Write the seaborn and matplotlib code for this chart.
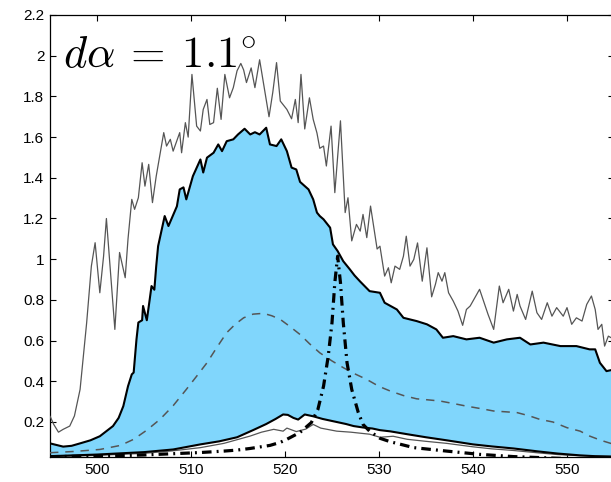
import numpy as np
import pandas as pd
import matplotlib
matplotlib.use("Agg")
import matplotlib.pyplot as plt
from matplotlib.ticker import FuncFormatter
import seaborn as sns

# ---- measured spectra (wavelength in nm, intensity a.u.) ----
upper_x = [495.0, 496.4, 497.3, 498.2, 499.3, 500.3, 501.7, 502.3, 502.8, 503.3, 503.7, 503.9,
           504.2, 504.4, 504.8, 504.9, 505.3, 505.6, 505.8, 506.1, 506.3, 506.5, 507.2, 507.6,
           508.5, 508.8, 509.2, 509.5, 510.2, 511.0, 511.3, 511.7, 512.4, 512.9, 513.3, 513.8,
           514.5, 515.0, 515.7, 516.3, 516.8, 517.3, 518.0, 518.4, 519.1, 519.6, 520.2, 520.7,
           521.2, 521.6, 522.5, 523.0, 523.4, 523.7, 524.1, 524.8, 525.1, 525.6, 526.2, 526.9,
           527.4, 528.0, 529.0, 530.1, 530.6, 531.9, 532.6, 534.0, 535.1, 536.1, 536.8, 537.9,
           539.3, 540.7, 542.2, 543.6, 545.0, 546.1, 547.5, 549.3, 551.0, 552.4, 553.0, 553.5,
           554.2, 555.0]
upper_y = [0.095, 0.079, 0.083, 0.095, 0.11, 0.13, 0.18, 0.22, 0.278, 0.376, 0.434, 0.443,
           0.606, 0.689, 0.70, 0.77, 0.70, 0.80, 0.868, 0.85, 0.966, 1.064, 1.212, 1.163,
           1.26, 1.343, 1.353, 1.294, 1.408, 1.49, 1.426, 1.499, 1.523, 1.564, 1.531, 1.58,
           1.589, 1.613, 1.641, 1.613, 1.624, 1.613, 1.646, 1.564, 1.556, 1.589, 1.531, 1.45,
           1.441, 1.38, 1.343, 1.294, 1.229, 1.212, 1.196, 1.155, 1.073, 1.04, 0.99, 0.95,
           0.92, 0.89, 0.843, 0.835, 0.786, 0.753, 0.712, 0.696, 0.68, 0.655, 0.614, 0.622,
           0.606, 0.614, 0.59, 0.606, 0.614, 0.581, 0.59, 0.573, 0.573, 0.557, 0.557, 0.491,
           0.45, 0.458]

raw_x = [495.0, 495.4, 495.9, 496.4, 497.1, 497.6, 498.2, 498.5, 498.9, 499.4, 499.8, 500.3,
         500.7, 501.0,
         501.9, 502.4, 503.0, 503.3, 503.7, 504.0, 504.4, 504.8, 505.1, 505.5, 505.9, 506.3,
         507.1, 507.4, 507.8, 508.1, 508.8, 509.0, 509.4, 509.7, 510.1, 510.6, 511.0, 511.3,
         511.7, 512.0, 512.4, 512.8, 513.2, 513.6, 514.1, 514.5, 514.9, 515.3, 515.6, 515.9,
         516.4, 516.8, 517.3, 517.9, 518.3, 518.7, 519.1, 519.5, 520.2, 520.7, 521.1, 521.4,
         521.7, 522.1, 522.6, 523.0, 523.4, 523.7, 524.1, 524.4, 524.9, 525.3, 525.9, 526.4,
         526.7, 527.1, 527.6, 528.0, 528.3, 528.7, 529.1, 529.8, 530.1, 530.6, 531.0, 531.3,
         531.7, 532.2, 532.6, 532.9, 533.3, 533.7, 534.1, 534.6, 535.1, 535.6, 536.0, 536.3,
         536.7, 537.0, 537.4, 537.9, 538.4, 538.9, 539.3, 539.7, 540.2, 540.7, 541.3, 541.6,
         542.2, 542.8, 543.2, 543.8, 544.3, 544.7, 545.0, 545.6, 546.3, 546.8, 547.3, 547.9,
         548.4, 548.9, 549.6, 550.0, 550.5, 551.0, 551.6, 552.1, 552.6, 553.0, 553.3, 553.7,
         554.0, 554.4, 555.0]
raw_y = [0.229, 0.188, 0.15, 0.164, 0.18, 0.23, 0.36, 0.50, 0.688, 0.966, 1.081, 0.835,
         1.015, 1.20,
         0.655, 1.033, 0.909, 1.10, 1.294, 1.245, 1.302, 1.474, 1.359, 1.466, 1.278, 1.408,
         1.622, 1.556, 1.589, 1.531, 1.622, 1.523, 1.671, 1.60, 1.908, 1.654, 1.63, 1.736,
         1.785, 1.662, 1.671, 1.84, 1.687, 1.908, 1.793, 1.843, 1.926, 1.962, 1.93, 1.868,
         1.94, 1.843, 1.98, 1.81, 1.70, 1.82, 1.966, 1.777, 1.736, 1.69, 1.785, 1.671,
         1.908, 1.64, 1.793, 1.687, 1.62, 1.545, 1.556, 1.458, 1.654, 1.327, 1.68, 1.229,
         1.302, 1.09, 1.171, 1.138, 1.22, 1.106, 1.261, 1.05, 1.064, 0.917, 0.958, 0.884,
         0.966, 0.95, 1.015, 1.113, 0.966, 0.999, 1.08, 0.892, 1.056, 0.815, 0.876, 0.934,
         0.892, 0.934, 0.835, 0.794, 0.745, 0.675, 0.753, 0.77, 0.811, 0.852, 0.77, 0.729,
         0.655, 0.868, 0.786, 0.852, 0.745, 0.827, 0.77, 0.704, 0.843, 0.737, 0.704, 0.786,
         0.72, 0.762, 0.72, 0.762, 0.68, 0.712, 0.696, 0.778, 0.819, 0.753, 0.655, 0.68,
         0.573, 0.622, 0.606]

base_x = [495.0, 500.0, 505.0, 508.1, 511.0, 513.0, 514.9, 516.6, 518.0, 519.0, 519.8, 520.3,
          520.9, 521.4, 522.1, 523.0, 524.0, 525.5, 526.5, 527.3, 528.3, 529.3, 530.1, 531.2,
          533.0, 535.0, 537.2, 540.0, 542.0, 544.3, 547.0, 549.0, 551.4, 553.0, 555.0]
base_y = [0.032, 0.040, 0.052, 0.065, 0.09, 0.105, 0.125, 0.16, 0.19, 0.215, 0.237, 0.235,
          0.22, 0.212, 0.237, 0.228, 0.215, 0.20, 0.19, 0.18, 0.173, 0.168, 0.16, 0.154,
          0.14, 0.125, 0.11, 0.09, 0.08, 0.07, 0.055, 0.045, 0.036, 0.032, 0.03]

low_x = [495.0, 500.0, 505.0, 508.0, 511.0, 513.5, 516.3, 517.5, 518.8, 519.8, 520.2, 521.2,
         522.2, 523.0, 523.8, 525.5, 527.0, 529.0, 530.1, 531.5, 533.0, 535.0, 537.2, 540.0,
         542.0, 544.3, 547.0, 549.0, 551.4, 555.0]
low_y = [0.03, 0.036, 0.046, 0.058, 0.074, 0.095, 0.131, 0.15, 0.164, 0.155, 0.17, 0.153,
         0.165, 0.188, 0.17, 0.155, 0.15, 0.14, 0.125, 0.13, 0.115, 0.105, 0.095, 0.078,
         0.068, 0.06, 0.048, 0.04, 0.034, 0.03]

model_x = [495.0, 497.5, 500.3, 502.5, 503.9, 505.3, 506.7, 508.1, 509.5, 510.6, 511.7, 512.8,
           513.8, 514.7, 515.6, 516.6, 517.7, 518.6, 519.5, 520.5, 521.6, 522.6, 523.7, 525.0,
           526.2, 527.5, 528.7, 530.0, 531.2, 532.6, 534.0, 535.4, 536.5, 538.0, 539.3, 540.8,
           542.2, 543.5, 544.7, 546.0, 547.1, 548.5, 550.0, 551.4, 552.4, 553.6, 555.0]
model_y = [0.049, 0.055, 0.065, 0.085, 0.115, 0.16, 0.213, 0.28, 0.36, 0.425, 0.491, 0.57,
           0.639, 0.68, 0.712, 0.73, 0.734, 0.722, 0.704, 0.67, 0.63, 0.585, 0.54, 0.50,
           0.467, 0.435, 0.409, 0.375, 0.352, 0.33, 0.314, 0.308, 0.303, 0.29, 0.278, 0.266,
           0.254, 0.25, 0.246, 0.23, 0.213, 0.20, 0.172, 0.155, 0.131, 0.11, 0.09]

line_x = [495.0, 500.3, 505.0, 508.0, 511.0, 513.5, 514.9, 516.3, 518.4, 519.5, 520.2, 521.6,
          522.8, 523.5, 524.1, 524.6, 525.0, 525.3, 525.6, 525.9, 526.2, 526.6, 527.1, 527.8,
          528.3, 529.0, 530.1, 531.2, 533.7, 537.2, 540.7, 544.3, 550.0, 555.0]
line_y = [0.03, 0.032, 0.038, 0.044, 0.05, 0.057, 0.062, 0.07, 0.085, 0.10, 0.115, 0.149,
          0.197, 0.262, 0.376, 0.524, 0.688, 0.885, 1.015, 0.885, 0.688, 0.491, 0.36, 0.246,
          0.188, 0.155, 0.12, 0.103, 0.074, 0.057, 0.041, 0.03, 0.02, 0.015]

y_ticks = [0.2, 0.4, 0.6, 0.8, 1.0, 1.2, 1.4, 1.6, 1.8, 2.0, 2.2]
x_ticks = [500, 510, 520, 530, 540, 550]

sns.set_theme(style="white")
plt.rcParams["font.family"] = ["Liberation Sans", "DejaVu Sans"]
plt.rcParams["mathtext.fontset"] = "cm"

fig = plt.figure(figsize=(6.11, 4.82), dpi=100)
ax = fig.add_axes([50 / 611, 1 - 457 / 482, 564 / 611, 442 / 482])
ax.set_facecolor("white")

# shaded band between the baseline and the measured envelope
poly_x = np.r_[upper_x, base_x[::-1]]
poly_y = np.r_[upper_y, base_y[::-1]]
ax.fill(poly_x, poly_y, color="#80d6fc", lw=0, zorder=1)

df = lambda x, y: pd.DataFrame({"x": x, "y": y})
common = dict(x="x", y="y", ax=ax, estimator=None, errorbar=None, sort=False, legend=False)

sns.lineplot(data=df(raw_x, raw_y), color="#555555", lw=0.9, zorder=3, **common)
sns.lineplot(data=df(upper_x, upper_y), color="black", lw=1.5, zorder=4, **common)
sns.lineplot(data=df(model_x, model_y), color="#555555", lw=1.1,
             linestyle=(0, (5.5, 4.5)), zorder=3, **common)
sns.lineplot(data=df(low_x, low_y), color="#555555", lw=0.9, zorder=3, **common)
sns.lineplot(data=df(base_x, base_y), color="black", lw=1.5, zorder=4, **common)
sns.lineplot(data=df(line_x, line_y), color="black", lw=2.3,
             linestyle=(0, (3.0, 1.6, 0.6, 1.6)), zorder=5, **common)

ax.set_xlim(495, 555)
ax.set_ylim(0.028, 2.2)
ax.set_xticks(x_ticks)
ax.set_yticks(y_ticks)
ax.yaxis.set_major_formatter(FuncFormatter(lambda v, p: f"{v:g}"))
ax.set_xlabel("")
ax.set_ylabel("")
ax.tick_params(direction="in", length=4, width=0.8, colors="black", labelsize=11,
               top=True, right=True, bottom=True, left=True, pad=4)
for s in ax.spines.values():
    s.set_visible(True)
    s.set_color("black")
    s.set_linewidth(0.9)

ax.text(0.023, 0.88, r"$d\alpha\:=\:1.1^{\circ}$", transform=ax.transAxes,
        fontsize=32, va="baseline", ha="left", color="black", zorder=6)

fig.savefig("out.png", dpi=100)
